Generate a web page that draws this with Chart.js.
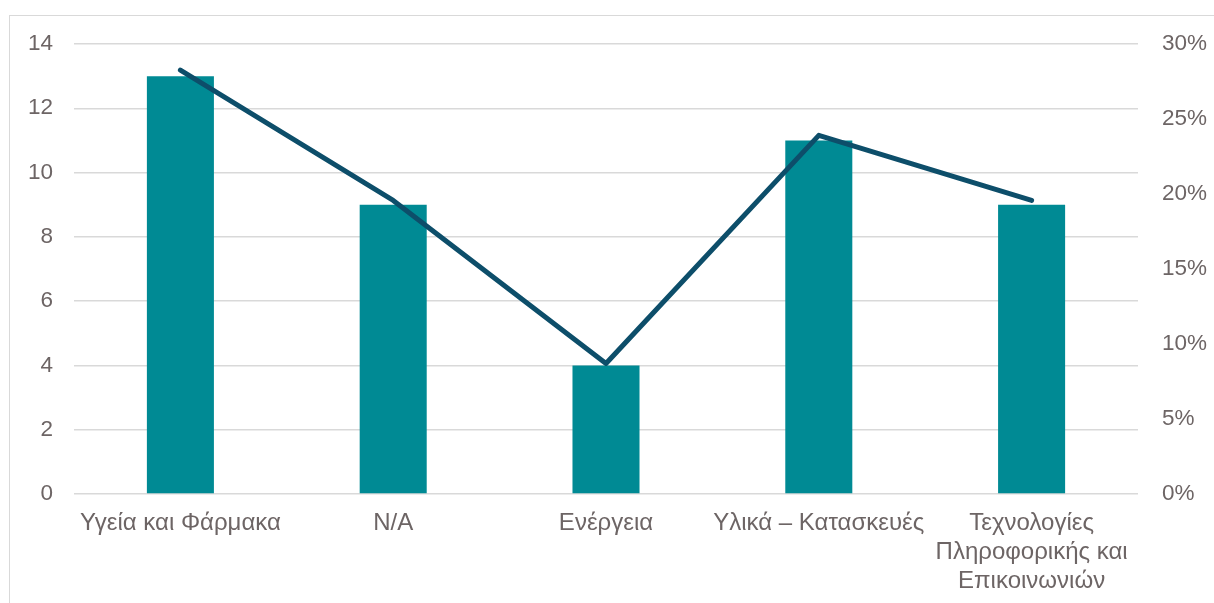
<!DOCTYPE html>
<html>
<head>
<meta charset="utf-8">
<script src="https://cdn.jsdelivr.net/npm/chart.js@4"></script>
<style>
  html, body { margin: 0; padding: 0; background: #ffffff; }
  body { width: 1214px; height: 603px; position: relative; overflow: hidden; }
  #frame { position: absolute; left: 9px; top: 15px; width: 1300px; height: 700px; border-left: 1.5px solid #d9d9d9; border-top: 1.5px solid #d9d9d9; }
  #wrap { position: absolute; left: 0; top: 0; width: 1214px; height: 603px; }
</style>
</head>
<body>
<div id="frame"></div>
<div id="wrap"><canvas id="c" width="1214" height="603"></canvas></div>
<script>
const categories = [
  "Υγεία και Φάρμακα",
  "N/A",
  "Ενέργεια",
  "Υλικά – Κατασκευές",
  ["Τεχνολογίες", "Πληροφορικής και", "Επικοινωνιών"]
];
const counts = [13, 9, 4, 11, 9];
const shares = [28.26, 19.57, 8.70, 23.91, 19.57];
const leftTicks = [0, 2, 4, 6, 8, 10, 12, 14];
const rightTicks = [0, 5, 10, 15, 20, 25, 30];

const textColor = "#6d6565";
const gridColor = "#d9d9d9";
const family = "'Liberation Sans', Arial, sans-serif";

new Chart(document.getElementById("c"), {
  data: {
    labels: categories,
    datasets: [
      {
        type: "line",
        data: shares,
        yAxisID: "y1",
        borderColor: "#0d4e6a",
        borderWidth: 5,
        borderCapStyle: "round",
        borderJoinStyle: "round",
        pointRadius: 0,
        tension: 0,
        order: 0
      },
      {
        type: "bar",
        data: counts,
        yAxisID: "y",
        backgroundColor: "#008a94",
        barPercentage: 0.315,
        categoryPercentage: 1.0,
        order: 1
      }
    ]
  },
  options: {
    responsive: false,
    animation: false,
    devicePixelRatio: 1,
    layout: { padding: { left: 0, right: 0, top: 44, bottom: 0 } },
    plugins: { legend: { display: false }, tooltip: { enabled: false } },
    scales: {
      x: {
        grid: { display: false, drawTicks: false },
        border: { display: false },
        ticks: { color: textColor, font: { family: family, size: 24, lineHeight: 1.21 }, padding: 15, maxRotation: 0, minRotation: 0, autoSkip: false },
        afterFit: s => { s.height = 109; }
      },
      y: {
        position: "left",
        min: 0, max: 14,
        afterBuildTicks: s => { s.ticks = leftTicks.map(v => ({ value: v })); },
        grid: { color: gridColor, lineWidth: 1.5, drawTicks: false },
        border: { display: false },
        ticks: { color: textColor, font: { family: family, size: 22.5 }, padding: 21 },
        afterFit: s => { s.width = 74; }
      },
      y1: {
        position: "right",
        min: 0, max: 30,
        afterBuildTicks: s => { s.ticks = rightTicks.map(v => ({ value: v })); },
        grid: { display: false, drawTicks: false },
        border: { display: false },
        ticks: { color: textColor, font: { family: family, size: 22.5 }, padding: 24, callback: v => v + "%" },
        afterFit: s => { s.width = 76; }
      }
    }
  }
});
</script>
</body>
</html>
